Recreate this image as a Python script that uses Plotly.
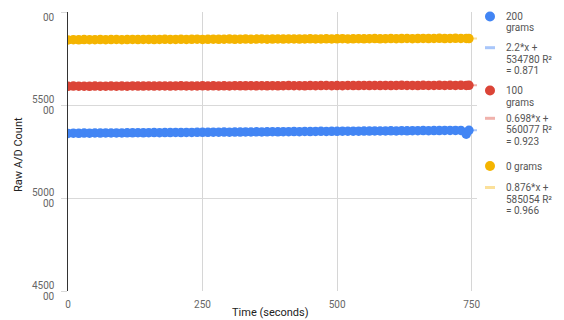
import plotly.graph_objects as go

time_s = [0, 10, 20, 30, 40, 50, 60, 70, 80, 90,
          100, 110, 120, 130, 140, 150, 160, 170, 180, 190,
          200, 210, 220, 230, 240, 250, 260, 270, 280, 290,
          300, 310, 320, 330, 340, 350, 360, 370, 380, 390,
          400, 410, 420, 430, 440, 450, 460, 470, 480, 490,
          500, 510, 520, 530, 540, 550, 560, 570, 580, 590,
          600, 610, 620, 630, 640, 650, 660, 670, 680, 690,
          700, 710, 720, 730, 740, 745]

grams_200 = [534700, 534850, 534760, 534900, 534820, 534950, 534880, 534990, 534940, 535010,
             534980, 535050, 535020, 535090, 535060, 535100, 535150, 535120, 535190, 535160,
             535240, 535200, 535270, 535250, 535300, 535330, 535290, 535380, 535350, 535420,
             535390, 535460, 535430, 535500, 535480, 535560, 535530, 535590, 535620, 535580,
             535660, 535640, 535700, 535680, 535750, 535730, 535790, 535820, 535780, 535860,
             535840, 535900, 535880, 535950, 535930, 536000, 535970, 536040, 536020, 536080,
             536110, 536070, 536150, 536130, 536190, 536170, 536230, 536210, 536270, 536250,
             536310, 536290, 536350, 536330, 534300, 536400]

grams_100 = [560050, 560150, 560090, 560120, 560060, 560180, 560130, 560100, 560200, 560140,
             560170, 560110, 560230, 560160, 560190, 560250, 560170, 560220, 560280, 560200,
             560240, 560310, 560230, 560270, 560210, 560300, 560260, 560340, 560280, 560310,
             560250, 560360, 560300, 560330, 560390, 560310, 560350, 560290, 560400, 560340,
             560370, 560430, 560350, 560400, 560340, 560450, 560390, 560420, 560480, 560400,
             560440, 560380, 560490, 560430, 560460, 560520, 560440, 560480, 560420, 560530,
             560470, 560500, 560560, 560480, 560520, 560460, 560570, 560510, 560540, 560600,
             560520, 560560, 560500, 560610, 560550, 560580]

grams_0 = [585000, 585110, 585060, 585150, 585080, 585120, 585190, 585100, 585160, 585220,
           585130, 585180, 585250, 585160, 585210, 585280, 585190, 585240, 585310, 585220,
           585270, 585340, 585250, 585300, 585370, 585280, 585330, 585400, 585310, 585360,
           585430, 585340, 585390, 585460, 585370, 585420, 585490, 585400, 585450, 585520,
           585430, 585480, 585550, 585460, 585510, 585580, 585490, 585540, 585610, 585520,
           585570, 585640, 585550, 585600, 585670, 585580, 585630, 585700, 585610, 585660,
           585730, 585640, 585690, 585760, 585670, 585720, 585790, 585700, 585750, 585820,
           585730, 585780, 585850, 585760, 585810, 585720]

series_names = ["200 grams", "100 grams", "0 grams"]
legend_name_lines = [["200", "grams"], ["100", "grams"], ["0 grams"]]

# trendline coefficients (slope, intercept, R²) as shown in the legend
trend_slopes = [2.2, 0.698, 0.876]
trend_intercepts = [534780, 560077, 585054]
trend_r2 = ["0.871", "0.923", "0.966"]

x_range = [0, 760]
y_range = [450000, 600000]
x_tickvals = [0, 250, 500, 750]
y_tickvals = [450000, 500000, 550000, 600000]
y_tick_upper = ["4500", "5000", "5500", None]   # top label's upper line is clipped in the source
y_tick_lower = ["00", "00", "00", "00"]

colors = ["#4285F4", "#DB4437", "#F4B400"]
trend_colors = ["#A8C6FA", "#F0B2AC", "#FBE09A"]

W, H = 564, 320
ML, MR, MT, MB = 68, 87, 12, 29
PW, PH = W - ML - MR, H - MT - MB


def px_x(px):
    return (px - ML) / PW


def px_y(py):
    return (H - MB - py) / PH


fig = go.Figure()

all_vals = [grams_200, grams_100, grams_0]
for i in range(3):
    m, b = trend_slopes[i], trend_intercepts[i]
    fig.add_trace(go.Scatter(
        x=x_range, y=[m * xx + b for xx in x_range], mode="lines",
        line=dict(color=trend_colors[i], width=2), showlegend=False,
        hoverinfo="skip",
    ))
for i in range(3):
    fig.add_trace(go.Scatter(
        x=time_s, y=all_vals[i], mode="markers",
        marker=dict(color=colors[i], size=9.5, line=dict(width=0)),
        name=series_names[i], showlegend=False,
    ))

annotations = []
shapes = []

# y tick labels (two-line, wrapped as in the source)
for tv, up, lo in zip(y_tickvals, y_tick_upper, y_tick_lower):
    if up:
        annotations.append(dict(xref="paper", yref="y", x=0, y=tv, text=up,
                                xanchor="right", yanchor="middle", xshift=-11, yshift=6,
                                showarrow=False, font=dict(size=10, color="#666666")))
    annotations.append(dict(xref="paper", yref="y", x=0, y=tv, text=lo,
                            xanchor="right", yanchor="middle", xshift=-11, yshift=-5.5,
                            showarrow=False, font=dict(size=10, color="#666666")))

# axis titles
annotations.append(dict(xref="paper", yref="paper", x=px_x(270), y=px_y(312),
                        text="Time (seconds)", showarrow=False, xanchor="center",
                        yanchor="middle", font=dict(size=11, color="#222222")))
annotations.append(dict(xref="paper", yref="paper", x=px_x(18), y=px_y(155),
                        text="Raw A/D Count", showarrow=False, textangle=-90,
                        xanchor="center", yanchor="middle", font=dict(size=11, color="#222222")))

# legend (drawn manually to match compact wrapped layout)
legend_entries = []
for i in range(3):
    legend_entries.append(("marker", colors[i], legend_name_lines[i]))
    legend_entries.append(("line", trend_colors[i],
                           [f"{trend_slopes[i]}*x +", f"{trend_intercepts[i]} R²", f"= {trend_r2[i]}"]))
entry_tops = [16.5, 47.7, 90.5, 118.3, 166, 187.5]
line_gap = 11.5
text_x = 504
sym_x = 490
for (kind, col, lines), top in zip(legend_entries, entry_tops):
    if kind == "marker":
        shapes.append(dict(type="circle", xref="paper", yref="paper",
                           x0=px_x(sym_x - 5), x1=px_x(sym_x + 5),
                           y0=px_y(top + 5), y1=px_y(top - 5),
                           fillcolor=col, line=dict(width=0)))
    else:
        shapes.append(dict(type="rect", xref="paper", yref="paper",
                           x0=px_x(sym_x - 5), x1=px_x(sym_x + 5),
                           y0=px_y(top + 1.5), y1=px_y(top - 1.5),
                           fillcolor=col, line=dict(width=0)))
    for k, ln in enumerate(lines):
        annotations.append(dict(xref="paper", yref="paper", x=px_x(text_x),
                                y=px_y(top + k * line_gap), text=ln, showarrow=False,
                                xanchor="left", yanchor="middle",
                                font=dict(size=10, color="#555555")))

fig.update_layout(
    width=W, height=H,
    margin=dict(l=ML, r=MR, t=MT, b=MB, autoexpand=False),
    paper_bgcolor="white", plot_bgcolor="white",
    font=dict(family="Roboto, Arial, sans-serif", size=10, color="#666666"),
    showlegend=False,
    annotations=annotations,
    shapes=shapes,
    xaxis=dict(range=x_range, tickvals=x_tickvals, showgrid=True,
               gridcolor="#d6d6d6", gridwidth=1, zeroline=False, showline=False,
               ticks="outside", ticklen=4, tickcolor="rgba(0,0,0,0)",
               tickfont=dict(size=10, color="#666666"), automargin=False),
    yaxis=dict(range=y_range, tickvals=y_tickvals, showticklabels=False,
               showgrid=True, gridcolor="#d9d9d9", gridwidth=1, zeroline=False,
               showline=True, linecolor="#333333", linewidth=1,
               ticks="outside", ticklen=6, tickcolor="#d9d9d9", automargin=False),
)

fig.write_html("out.html", config={"displayModeBar": False},
               post_script="document.body.style.margin='0';")
